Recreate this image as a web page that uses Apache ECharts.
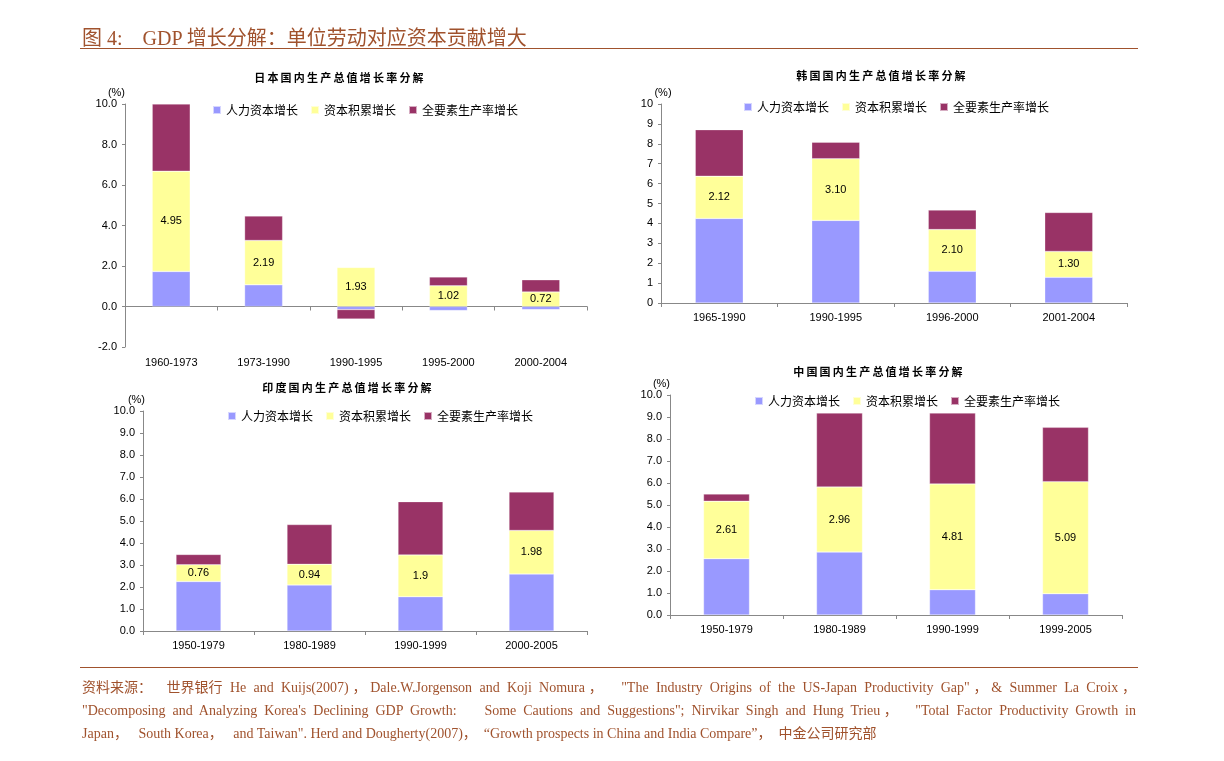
<!DOCTYPE html>
<html><head><meta charset="utf-8">
<script src="https://cdn.jsdelivr.net/npm/echarts@6/dist/echarts.min.js"></script>
<style>
html,body{margin:0;padding:0;background:#fff;width:1224px;height:761px;overflow:hidden;}
#hdr{position:absolute;left:82px;top:22px;font:20px "Liberation Serif","Noto Sans CJK SC",serif;color:#A0522D;white-space:nowrap;}
#hline{position:absolute;left:80px;top:48px;width:1058px;height:1px;background:#A0522D;}
#fline{position:absolute;left:80px;top:667px;width:1058px;height:1px;background:#A0522D;}
#foot{position:absolute;left:82px;top:676px;width:1054px;font:14px "Liberation Serif","Noto Sans CJK SC",serif;color:#A0522D;}
#foot div{text-align:justify;text-align-last:justify;height:23px;line-height:23px;white-space:nowrap;}
#foot div.last{text-align-last:left;}
#foot span{display:inline-block;}
.ctitle{position:absolute;font:bold 11px "Noto Sans CJK SC",sans-serif;letter-spacing:2.2px;color:#000;white-space:nowrap;transform:translateX(-50%);}
#chart{position:absolute;left:0;top:0;width:1224px;height:761px;}
</style></head>
<body>
<div id="chart"></div>
<div id="hdr">图 4:&nbsp;&nbsp;&nbsp; GDP 增长分解：单位劳动对应资本贡献增大</div>
<div id="hline"></div>
<div id="fline"></div>
<div id="foot">
<div><span>资料来源：</span>&nbsp; <span>世界银行</span> He and Kuijs(2007)，Dale.W.Jorgenson and Koji Nomura，&nbsp; "The Industry Origins of the US-Japan Productivity Gap"，&amp; Summer La Croix，</div>
<div>"Decomposing and Analyzing Korea's Declining GDP Growth:&nbsp;&nbsp;&nbsp; Some Cautions and Suggestions"; Nirvikar Singh and Hung Trieu，&nbsp; "Total Factor Productivity Growth in</div>
<div class="last">Japan，&nbsp;&nbsp; South Korea，&nbsp;&nbsp; and Taiwan". Herd and Dougherty(2007)，&nbsp; “Growth prospects in China and India Compare”，&nbsp; <span>中金公司研究部</span></div>
</div>
<script>
// ---- data ----
const seriesNames = ['人力资本增长', '资本积累增长', '全要素生产率增长'];

const japanTitle = '日本国内生产总值增长率分解';
const japanCats = ['1960-1973', '1973-1990', '1990-1995', '1995-2000', '2000-2004'];
const japanHuman = [1.73, 1.07, -0.15, -0.20, -0.15];
const japanCapital = [4.95, 2.19, 1.93, 1.02, 0.72];
const japanTFP = [3.32, 1.21, -0.47, 0.44, 0.60];

const koreaTitle = '韩国国内生产总值增长率分解';
const koreaCats = ['1965-1990', '1990-1995', '1996-2000', '2001-2004'];
const koreaHuman = [4.25, 4.15, 1.59, 1.29];
const koreaCapital = [2.12, 3.10, 2.10, 1.30];
const koreaTFP = [2.34, 0.83, 0.98, 1.96];

const indiaTitle = '印度国内生产总值增长率分解';
const indiaCats = ['1950-1979', '1980-1989', '1990-1999', '2000-2005'];
const indiaHuman = [2.25, 2.09, 1.56, 2.59];
const indiaCapital = [0.76, 0.94, 1.9, 1.98];
const indiaTFP = [0.47, 1.81, 2.42, 1.75];

const chinaTitle = '中国国内生产总值增长率分解';
const chinaCats = ['1950-1979', '1980-1989', '1990-1999', '1999-2005'];
const chinaHuman = [2.56, 2.86, 1.15, 0.97];
const chinaCapital = [2.61, 2.96, 4.81, 5.09];
const chinaTFP = [0.33, 3.36, 3.22, 2.47];

// ---- layout / style ----
const colors = ['#9999FF', '#FFFF99', '#993366'];
const panels = [
  {title: japanTitle, cats: japanCats, data: [japanHuman, japanCapital, japanTFP],
   grid: {left: 125, top: 104, width: 462, height: 243}, titleX: 340, titleY: 69,
   legendX: 212, legendY: 104, min: -2, max: 10, interval: 2, ydec: 1, ldec: 2,
   barWidth: 38, labelMargin: 10, nameAlign: 'right', namePad: [0, 0, 0, 0], nameGap: 5},
  {title: koreaTitle, cats: koreaCats, data: [koreaHuman, koreaCapital, koreaTFP],
   grid: {left: 661, top: 104, width: 466, height: 199}, titleX: 882, titleY: 67,
   legendX: 743, legendY: 101, min: 0, max: 10, interval: 1, ydec: 0, ldec: 2,
   barWidth: 48, labelMargin: 9, nameAlign: 'center', namePad: [0, 0, 0, 4], nameGap: 2},
  {title: indiaTitle, cats: indiaCats, data: [indiaHuman, indiaCapital, indiaTFP],
   grid: {left: 143, top: 411, width: 444, height: 220}, titleX: 348, titleY: 379,
   legendX: 227, legendY: 410, min: 0, max: 10, interval: 1, ydec: 1, ldec: -1,
   barWidth: 45, labelMargin: 9, nameAlign: 'right', namePad: [0, -2, 0, 0], nameGap: 3},
  {title: chinaTitle, cats: chinaCats, data: [chinaHuman, chinaCapital, chinaTFP],
   grid: {left: 670, top: 395, width: 452, height: 220}, titleX: 879, titleY: 363,
   legendX: 754, legendY: 395, min: 0, max: 10, interval: 1, ydec: 1, ldec: 2,
   barWidth: 46, labelMargin: 9, nameAlign: 'right', namePad: [0, 0, 0, 0], nameGap: 3}
];

const fontLatin = 'Liberation Sans, Arial, sans-serif';
const fontCJK = 'Noto Sans CJK SC, sans-serif';

const option = {
  animation: false,
  backgroundColor: '#fff',
  grid: [], xAxis: [], yAxis: [], legend: [], series: []
};

panels.forEach((p, i) => {
  // chart title as HTML text (letter-spaced)
  const t = document.createElement('div');
  t.className = 'ctitle';
  t.textContent = p.title;
  t.style.left = p.titleX + 'px';
  t.style.top = p.titleY + 'px';
  document.body.appendChild(t);

  option.grid.push(Object.assign({containLabel: false}, p.grid));
  const hasNeg = p.min < 0;
  const labelAxisIndex = option.xAxis.length;
  // axis carrying the category labels (at the bottom of the grid)
  option.xAxis.push({
    type: 'category', gridIndex: i, data: p.cats, position: 'bottom',
    axisLine: {show: !hasNeg, onZero: false, lineStyle: {color: '#888', width: 1}},
    axisTick: {show: !hasNeg, length: 4, lineStyle: {color: '#888'}},
    axisLabel: {margin: p.labelMargin, fontFamily: fontLatin, fontSize: 11, color: '#000'},
    splitLine: {show: false}
  });
  if (hasNeg) {
    // zero line with ticks, no labels
    option.xAxis.push({
      type: 'category', gridIndex: i, data: p.cats, position: 'bottom',
      axisLine: {show: true, onZero: true, lineStyle: {color: '#888', width: 1}},
      axisTick: {show: true, length: 4, lineStyle: {color: '#888'}},
      axisLabel: {show: false},
      splitLine: {show: false}
    });
  }
  option.yAxis.push({
    type: 'value', gridIndex: i, min: p.min, max: p.max, interval: p.interval,
    name: '(%)', nameLocation: 'end', nameGap: p.nameGap,
    nameTextStyle: {fontFamily: fontLatin, fontSize: 11, color: '#000', align: p.nameAlign, padding: p.namePad},
    axisLine: {show: true, lineStyle: {color: '#888', width: 1}},
    axisTick: {show: true, length: 3, lineStyle: {color: '#888'}},
    axisLabel: {margin: 8, fontFamily: fontLatin, fontSize: 11, color: '#000',
      formatter: v => v.toFixed(p.ydec)},
    splitLine: {show: false}
  });
  option.legend.push({
    left: p.legendX, top: p.legendY, orient: 'horizontal', padding: 0,
    itemWidth: 8, itemHeight: 8, itemGap: 12, icon: 'rect',
    data: seriesNames,
    textStyle: {fontFamily: fontCJK, fontSize: 12, color: '#000'},
    selectedMode: false
  });
  seriesNames.forEach((name, k) => {
    option.series.push({
      name: name, type: 'bar', stack: 'total' + i,
      xAxisIndex: labelAxisIndex, yAxisIndex: i, barWidth: p.barWidth,
      data: p.data[k],
      itemStyle: {color: colors[k], borderColor: 'rgba(255,255,255,0.6)', borderWidth: 0.5},
      label: k === 1 ? {
        show: true, position: 'inside', fontFamily: fontLatin, fontSize: 11, color: '#000',
        formatter: prm => p.ldec < 0 ? String(prm.value) : prm.value.toFixed(p.ldec)
      } : {show: false}
    });
  });
});

const chart = echarts.init(document.getElementById('chart'), null, {renderer: 'canvas'});
chart.setOption(option);
</script>
</body></html>
